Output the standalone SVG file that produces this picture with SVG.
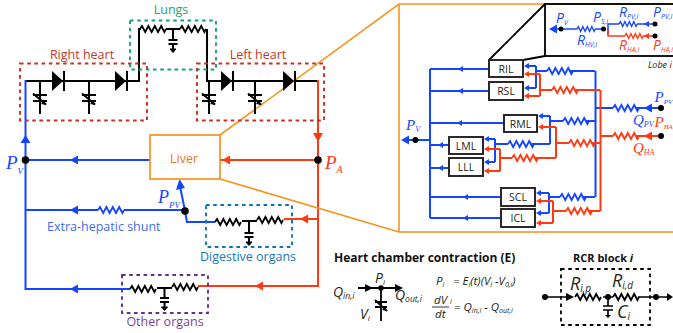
<svg xmlns="http://www.w3.org/2000/svg" width="673" height="333" viewBox="0 0 673 333">
<style>
text{font-family:"Open Sans","Noto Sans",sans-serif}
.w{fill:none;stroke-linejoin:miter;stroke-linecap:butt}
.k{stroke:#000;stroke-width:2}
.b{stroke:#1446ff;stroke-width:2}
.r{stroke:#ff3a12;stroke-width:2}
.o{stroke:#f7931e;stroke-width:1.600}
.d{fill:none;stroke-width:1.900;stroke-dasharray:3.600 3.600}
.box{fill:#fff;stroke:#231f20;stroke-width:1.900}
.bl{font-size:10.500px;fill:#231f20;text-anchor:middle}
.m{font-family:"Liberation Serif",serif;font-style:italic}
.fb{fill:#1446ff}.fr{fill:#ff3a12}
.lb{font-size:12.500px}
</style>
<defs>
<path id="res" d="M0 0l2-3 3.200 6 3.200-6 3.200 6 3.200-6 3.200 6 3.200-6 3.200 6 1.600-3" fill="none" stroke-width="1.800" stroke="currentColor"/>
<g id="cap"><path d="M0 0v11M-4.500 11h9M-4.500 15h9M0 15v6" fill="none" stroke="#000" stroke-width="2"/><path d="M-3 20h6l-3 3.500z" fill="#000" stroke="#000"/></g>
<g id="vc"><path d="M0 0v33M-7 14h14M-7 20h14M-7 12.500l13 11" fill="none" stroke="#000" stroke-width="2"/><path d="M6.500 24l-5.500-1 3-3.500z" fill="#000"/></g>
<g id="dio"><path d="M0-10L11 0L0 10z" fill="#000"/><path d="M12-10V10" stroke="#000" stroke-width="2"/></g>
<path id="al" d="M0 0l8-4.500v9z"/>
<path id="as" d="M0 0l5-3v6z"/>
</defs>

<g id="connectors">
<path class="w k" d="M25 81H139V29H141M166 29H180M207 29V81H318"/>
<path class="w b" d="M25.500 80V289H130M25.500 160H150M25.500 210H98M124 210H185M185 211L187 222H215"/>
<path class="w b" d="M185 211L180 186"/>
<path class="w r" d="M318 80V286H198M220 160H318M284 219H318"/>
<use href="#al" x="70" y="160" class="fb"/><use href="#al" x="70" y="210" class="fb"/><use href="#al" x="70" y="289" class="fb"/>
<use href="#al" x="222" y="160" class="fr"/><use href="#al" x="300" y="219" class="fr"/><use href="#al" x="255" y="286" class="fr"/>
<path class="fb" d="M25.500 135l5 8h-10z"/><path class="fr" d="M318 142l-5-9h10z"/><path class="fb" d="M179.500 179l-3.500 11 9-2z"/>
<path class="w o" d="M220 135L399 4H673M220 179L399 232H673M399 4V232"/>

<path class="w b" d="M430 69V218M489 69H430M489 91H430M504 123H430M449 145H430M449 168H430M501 197H430M501 218H430M430 140H404"/>
<path class="w b" d="M595.500 71V197M595 108H613M635 108H661M595 71H570M547 71H536M536 66V88M527 66H536M527 88H536M595 121H585M563 121H550M550 116V144M541 116H550M550 144H530M508 144H495M495 139V162M487 139H495M487 162H495M595 197H582M560 197H549M549 193V213M539 193H549M539 213H549"/>
<path class="w r" d="M600.500 90V211M600 136H613M635 136H661M600 90H575M552 90H540M540 74V96M527 74H540M527 96H540M600 143H591M569 143H556M556 127V158M541 127H556M556 158H534M512 158H500M500 149V171M487 149H500M487 171H500M600 211H588M566 211H553M553 201V223M539 201H553M539 223H553"/>
<g class="fb">
<use href="#as" x="458" y="69"/><use href="#as" x="458" y="91"/><use href="#as" x="457" y="123"/><use href="#as" x="438" y="145"/><use href="#as" x="438" y="168"/><use href="#as" x="463" y="197"/><use href="#as" x="463" y="218"/><use href="#al" x="401" y="140"/>
<use href="#as" x="524" y="66"/><use href="#as" x="524" y="88"/><use href="#as" x="538" y="116"/><use href="#as" x="484" y="139"/><use href="#as" x="484" y="162"/><use href="#as" x="536" y="193"/><use href="#as" x="536" y="213"/><use href="#al" x="644" y="108"/>
</g>
<g class="fr">
<use href="#as" x="524" y="74"/><use href="#as" x="524" y="96"/><use href="#as" x="538" y="127"/><use href="#as" x="484" y="149"/><use href="#as" x="484" y="171"/><use href="#as" x="536" y="201"/><use href="#as" x="536" y="223"/><use href="#al" x="644" y="136"/>
</g>
<path class="w" stroke="#000" stroke-width="1.800" d="M489 60L545 4M523 60L545 56"/>
<path class="w b" style="stroke-width:1.500" d="M553 29H577M595 29H603M608 35V24H619M637 24H655"/>
<path class="w r" style="stroke-width:1.500" d="M608 29V36H625M643 36H655"/>
<use href="#al" x="549" y="29" class="fb"/><use href="#as" x="644" y="24" class="fb"/><use href="#as" x="644" y="36" class="fr"/>
</g>

<g color="#000">
<use href="#res" x="140" y="29"/><use href="#res" x="180" y="29"/>
<use href="#res" x="98" y="210" color="#1446ff"/>
<use href="#res" x="215" y="222"/><use href="#res" x="257" y="220"/>
<path d="M242 221H257" stroke="#000" stroke-width="2"/>
<use href="#res" x="130" y="289"/><use href="#res" x="172" y="287"/>
<path d="M157 288H172" stroke="#000" stroke-width="2"/>
</g>
<g color="#1446ff">
<use href="#res" x="547" y="71"/><use href="#res" x="563" y="121"/><use href="#res" x="508" y="144"/><use href="#res" x="560" y="197"/><use href="#res" x="613" y="108"/>
<use href="#res" transform="translate(577 29) scale(.7 .8)"/><use href="#res" transform="translate(619 24) scale(.7 .8)"/>
</g>
<g color="#ff3a12">
<use href="#res" x="552" y="90"/><use href="#res" x="569" y="143"/><use href="#res" x="512" y="158"/><use href="#res" x="566" y="211"/><use href="#res" x="613" y="136"/>
<use href="#res" transform="translate(625 36) scale(.7 .8)"/>
</g>

<g id="right-heart">
<rect class="d" x="20" y="63.500" width="127" height="57" stroke="#c8301f"/>
<text class="lb" x="82" y="59" fill="#c1392b" text-anchor="middle">Right heart</text>
<use href="#dio" x="52" y="81"/><use href="#dio" x="115" y="81"/><use href="#vc" x="40" y="81"/><use href="#vc" x="89" y="81"/>
</g>
<g id="lungs">
<rect class="d" x="130" y="20.500" width="86" height="49" stroke="#1aa36f"/>
<text class="lb" x="171" y="14" fill="#1aa36f" text-anchor="middle">Lungs</text>
<use href="#cap" x="173" y="29"/>
</g>
<g id="left-heart">
<rect class="d" x="197" y="63.500" width="127" height="57" stroke="#c8301f"/>
<text class="lb" x="258" y="59" fill="#c1392b" text-anchor="middle">Left heart</text>
<use href="#dio" x="221" y="81"/><use href="#dio" x="283" y="81"/><use href="#vc" x="209" y="81"/><use href="#vc" x="255" y="81"/>
</g>
<g id="liver">
<rect x="150" y="135" width="70" height="44" fill="#fff" stroke="#f7931e" stroke-width="1.700"/>
<text class="lb" x="184" y="163" fill="#e87722" text-anchor="middle">Liver</text>
</g>
<g id="pv-node"><circle cx="25.500" cy="160" r="3.800"/><text class="m" x="6" y="169" font-size="19" fill="#1446ff">P<tspan dy="5" font-size="9">V</tspan></text></g>
<g id="pa-node"><circle cx="318" cy="160" r="3.800"/><text class="m" x="325" y="169" font-size="19" fill="#ff3a12">P<tspan dy="4" font-size="10">A</tspan></text></g>
<g id="ppv-node"><circle cx="185" cy="211" r="3.800"/><text class="m" x="158" y="203" font-size="18" fill="#1446ff">P<tspan dy="5" font-size="9">PV</tspan></text></g>
<g id="shunt"><text class="lb" x="47" y="231" fill="#3f6df5">Extra-hepatic shunt</text></g>
<g id="digestive">
<rect class="d" x="206" y="205" width="86" height="42" stroke="#0b72bd"/>
<use href="#cap" x="249" y="222"/>
<text class="lb" x="248" y="261" fill="#1a78c2" text-anchor="middle">Digestive organs</text>
</g>
<g id="other">
<rect class="d" x="122" y="275" width="86" height="38" stroke="#662d91"/>
<use href="#cap" x="164.500" y="287"/>
<text class="lb" x="165" y="326" fill="#7a3f9d" text-anchor="middle">Other organs</text>
</g>

<g id="lobe-inset">
<rect x="545" y="4" width="130" height="52" fill="none" stroke="#000" stroke-width="1.800"/>
<circle cx="561" cy="29" r="2.500"/><circle cx="603.500" cy="29" r="2.500"/><circle cx="655" cy="24" r="2.500"/><circle cx="655" cy="36" r="2.500"/>
<g class="m" font-size="14" fill="#1446ff">
<text x="556" y="23">P<tspan dy="2" font-size="7">V</tspan></text>
<text x="593" y="22">P<tspan dy="2" font-size="7">S,i</tspan></text>
<text x="619" y="17">R<tspan dy="2" font-size="7">PV,i</tspan></text>
<text x="653" y="17">P<tspan dy="2" font-size="7">PV,i</tspan></text>
<text x="577" y="45">R<tspan dy="2" font-size="7">HV,i</tspan></text>
</g>
<g class="m" font-size="14" fill="#ff3a12">
<text x="619" y="50">R<tspan dy="2" font-size="7">HA,i</tspan></text>
<text x="653" y="50">P<tspan dy="2" font-size="7">HA,i</tspan></text>
</g>
<text x="648" y="68" font-size="9" font-style="italic" fill="#231f20">Lobe i</text>
</g>

<g id="RIL"><rect class="box" x="489" y="60" width="34" height="17"/><text class="bl" x="506" y="72.500">RIL</text></g>
<g id="RSL"><rect class="box" x="489" y="82" width="34" height="18"/><text class="bl" x="506" y="95">RSL</text></g>
<g id="RML"><rect class="box" x="504" y="115" width="33" height="17"/><text class="bl" x="520.500" y="127.500">RML</text></g>
<g id="LML"><rect class="box" x="449" y="137" width="34" height="17"/><text class="bl" x="466" y="149.500">LML</text></g>
<g id="LLL"><rect class="box" x="449" y="158" width="34" height="18"/><text class="bl" x="466" y="171">LLL</text></g>
<g id="SCL"><rect class="box" x="501" y="188" width="34" height="18"/><text class="bl" x="518" y="201">SCL</text></g>
<g id="ICL"><rect class="box" x="501" y="209" width="34" height="18"/><text class="bl" x="518" y="222">ICL</text></g>

<g id="liver-ports">
<circle cx="415.500" cy="140" r="3"/><circle cx="661" cy="108" r="3"/><circle cx="661" cy="136" r="3"/>
<text class="m" x="406" y="130" font-size="15" fill="#1446ff">P<tspan dy="2" font-size="8">V</tspan></text>
<text class="m" x="654.500" y="102" font-size="15" fill="#1446ff">P<tspan dy="2" font-size="7">PV</tspan></text>
<text class="m" x="633" y="125" font-size="15" fill="#1446ff">Q<tspan dy="2" font-size="8">PV</tspan></text>
<text class="m" x="654.500" y="127" font-size="15" fill="#ff3a12">P<tspan dy="2" font-size="6.800">HA</tspan></text>
<text class="m" x="633" y="153" font-size="15" fill="#ff3a12">Q<tspan dy="2" font-size="8">HA</tspan></text>
</g>

<g id="heart-chamber">
<text x="334" y="262" font-size="12" font-weight="700" fill="#111">Heart chamber contraction (E)</text>
<path d="M358 288H398M381 288V321M375 302H387M375 307H387M375 300l12 11" fill="none" stroke="#000" stroke-width="1.800"/>
<path d="M373 288l-8-4v8zM403 288l-8-4v8zM387 311l-5-1 3-3z"/>
<circle cx="381" cy="288" r="2.800"/>
<g class="m" fill="#231f20">
<text x="333" y="297" font-size="14">Q<tspan dy="2" font-size="8.500">in,i</tspan></text>
<text x="375" y="283" font-size="14">P<tspan dy="2" font-size="8">i</tspan></text>
<text x="395" y="300" font-size="14">Q<tspan dy="2" font-size="8.500">out,i</tspan></text>
<text x="360" y="319" font-size="14">V<tspan dy="2" font-size="8">i</tspan></text>
<text x="436" y="285" font-size="11.500">P<tspan dy="2" font-size="7">i</tspan><tspan dy="-2" x="453">= E</tspan><tspan dy="2" font-size="7">i</tspan><tspan dy="-2">(t)(V</tspan><tspan dy="2" font-size="7">i</tspan><tspan dy="-2"> -V</tspan><tspan dy="2" font-size="7">0,i</tspan><tspan dy="-2">)</tspan></text>
<text x="434" y="304" font-size="11.500">dV</text><text x="450" y="304" font-size="7">i</text>
<text x="435" y="318" font-size="11.500">dt</text>
<text x="454" y="311" font-size="11.500">= Q<tspan dy="2" font-size="7">in,i</tspan><tspan dy="-2"> - Q</tspan><tspan dy="2" font-size="7">out,i</tspan></text>
</g>
<path d="M432 307H449" stroke="#000" stroke-width=".8"/>
</g>
<g id="rcr-block" color="#000">
<text x="573" y="262" font-size="11" font-weight="700" fill="#111">RCR block <tspan font-style="italic">i</tspan></text>
<rect x="561" y="269" width="89" height="56" fill="none" stroke="#000" stroke-width="1.800" stroke-dasharray="3.600 3.600"/>
<path d="M545 297H566M603 297H613M638 297H669M608 297V306M603 306H613M603 310H613M608 310V315" fill="none" stroke="#000" stroke-width="1.700"/>
<path d="M574 297l-8-4v8zM673 297l-6-4v8zM605 315h6l-3 3z"/>
<use href="#res" x="575" y="297"/><use href="#res" x="613" y="297"/>
<circle cx="545" cy="297" r="3"/><circle cx="608" cy="297" r="3"/><circle cx="656" cy="297" r="3"/>
<g class="m" fill="#231f20">
<text x="570" y="290" font-size="18">R<tspan dy="2" font-size="10">i,p</tspan></text>
<text x="612" y="287" font-size="18">R<tspan dy="2" font-size="10">i,d</tspan></text>
<text x="617" y="318" font-size="18">C<tspan dy="2" font-size="10">i</tspan></text>
</g>
</g>
</svg>
